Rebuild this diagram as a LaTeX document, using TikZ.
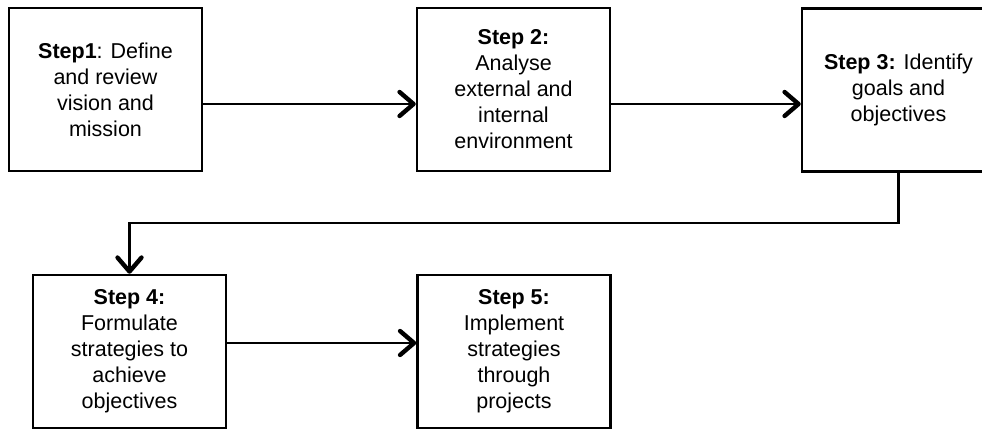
\documentclass[tikz,border=0pt]{standalone}
\usepackage{fontspec}
\setmainfont{Liberation Sans}
\usetikzlibrary{arrows.meta,calc}
\begin{document}
\begin{tikzpicture}[x=1pt,y=-1pt,
  stepbox/.style={draw=black, line width=2.5pt, rectangle, inner sep=0pt,
    minimum width=193pt, align=center,
    font=\fontsize{21.5}{26}\selectfont},
  toprow/.style={stepbox, minimum height=163pt},
  botrow/.style={stepbox, minimum height=153pt},
  flow/.style={draw=black, line width=2.2pt,
    -{Straight Barb[length=14pt,width=24pt,line width=4.4pt,round]}}
]
\useasboundingbox (0,0) rectangle (982,430);

% top row
\node[toprow] (b1) at (105.5,89.5) {\textbf{Step1}: Define\\and review\\vision and\\mission};
\node[toprow] (b2) at (513.5,89.5) {\textbf{Step 2:}\\Analyse\\external and\\internal\\environment};
\node[toprow] (b3) at (898.5,90) {\textbf{Step 3:} Identify\\goals and\\objectives};

% bottom row
\node[botrow] (b4) at (129.5,351.5) {\textbf{Step 4:}\\Formulate\\strategies to\\achieve\\objectives};
\node[botrow] (b5) at (514,351.5) {\textbf{Step 5:}\\Implement\\strategies\\through\\projects};

% connectors
\draw[flow] ([yshift=-14.5pt]b1.east) -- ([yshift=-14.5pt]b2.west);
\draw[flow] ([yshift=-14.5pt]b2.east) -- ([yshift=-14pt]b3.west);
\draw[flow] (b3.south) -- ++(0,50) -| (b4.north);
\draw[flow] ([yshift=8.5pt]b4.east) -- ([yshift=8.5pt]b5.west);
\end{tikzpicture}
\end{document}
